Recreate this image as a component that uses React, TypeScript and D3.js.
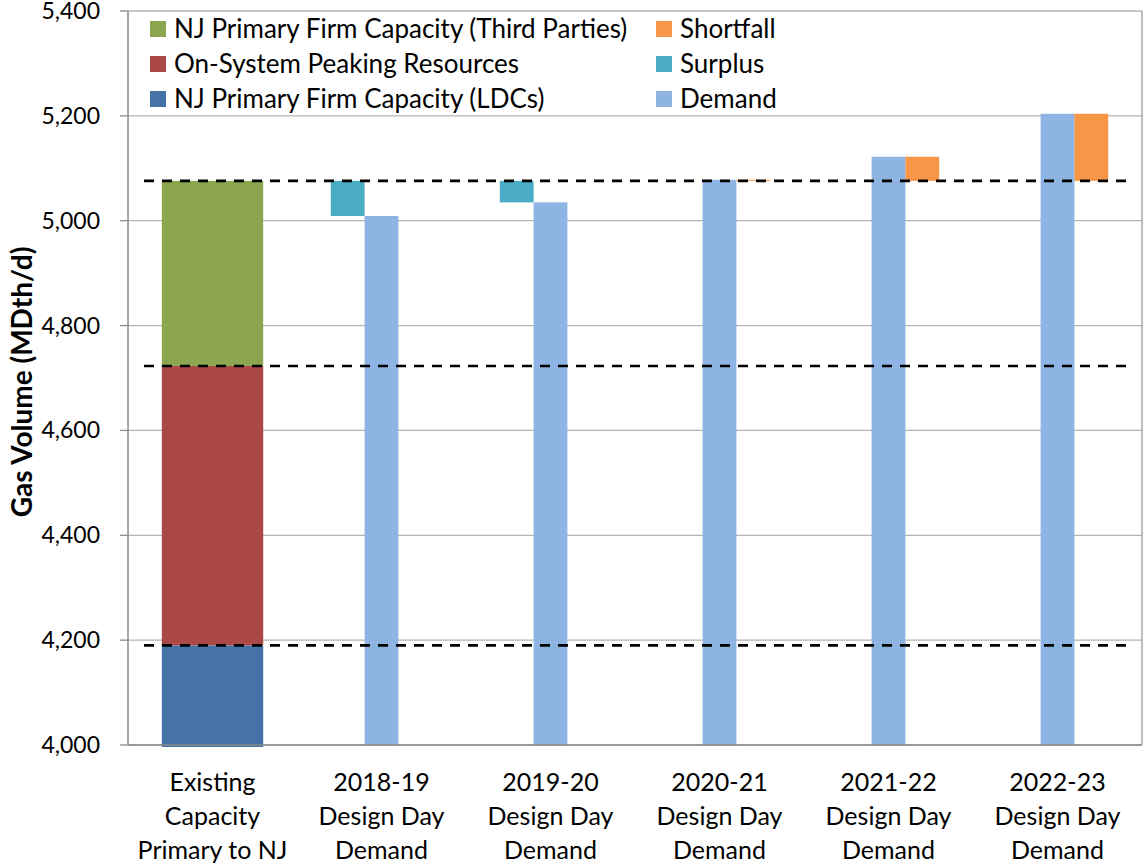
import React, { useEffect, useRef } from 'react';
import * as d3 from 'd3';

const categories = [
  ['Existing', 'Capacity', 'Primary to NJ'],
  ['2018-19', 'Design Day', 'Demand'],
  ['2019-20', 'Design Day', 'Demand'],
  ['2020-21', 'Design Day', 'Demand'],
  ['2021-22', 'Design Day', 'Demand'],
  ['2022-23', 'Design Day', 'Demand'],
];

// existing capacity stack (first category only)
const ldcCapacity = [4190, 0, 0, 0, 0, 0];
const peakingResources = [533, 0, 0, 0, 0, 0];
const thirdPartyCapacity = [353, 0, 0, 0, 0, 0];

// design day comparison
const demand = [0, 5009, 5035, 5078, 5122, 5204];
const surplus = [0, 67, 41, 0, 0, 0];
const shortfall = [0, 0, 0, 2, 46, 128];

const yTicks = [4000, 4200, 4400, 4600, 4800, 5000, 5200, 5400];

const legendItems = [
  { label: 'NJ Primary Firm Capacity (Third Parties)', color: '#8BA64F', col: 0, row: 0 },
  { label: 'On-System Peaking Resources', color: '#AA4846', col: 0, row: 1 },
  { label: 'NJ Primary Firm Capacity (LDCs)', color: '#4572A7', col: 0, row: 2 },
  { label: 'Shortfall', color: '#F79646', col: 1, row: 0 },
  { label: 'Surplus', color: '#4BACC6', col: 1, row: 1 },
  { label: 'Demand', color: '#8EB4E3', col: 1, row: 2 },
];

const FONT = 'Lato, "Open Sans", sans-serif';

function CapacityChart() {
  const ref = useRef<SVGSVGElement>(null);

  useEffect(() => {
    const width = 1143;
    const height = 867;
    const margin = { top: 11, right: 1, bottom: 122, left: 128 };
    const chartW = width - margin.left - margin.right;
    const chartH = height - margin.top - margin.bottom;

    const svg = d3.select(ref.current);
    svg.selectAll('*').remove();
    const g = svg.append('g').attr('transform', `translate(${margin.left},${margin.top})`);

    const x = d3.scaleBand<number>()
      .domain(d3.range(categories.length))
      .range([0, chartW])
      .padding(0);
    const bw = x.bandwidth();
    const sub = d3.scaleBand<string>()
      .domain(['surplus', 'demand', 'shortfall'])
      .range([bw * 0.2, bw * 0.8])
      .padding(0);

    const y = d3.scaleLinear().domain([4000, 5400]).range([chartH, 0]).clamp(true);

    // gridlines
    g.append('g')
      .selectAll('line')
      .data(yTicks)
      .enter()
      .append('line')
      .attr('x1', 0)
      .attr('x2', chartW)
      .attr('y1', d => y(d))
      .attr('y2', d => y(d))
      .attr('stroke', '#b4b4b4')
      .attr('stroke-width', 1.3);

    // right border
    g.append('line')
      .attr('x1', chartW).attr('x2', chartW)
      .attr('y1', 0).attr('y2', chartH)
      .attr('stroke', '#9a9a9a').attr('stroke-width', 1.3);

    // existing capacity stack
    const stackSeries = [
      { vals: ldcCapacity, color: '#4572A7' },
      { vals: peakingResources, color: '#AA4846' },
      { vals: thirdPartyCapacity, color: '#8BA64F' },
    ];
    const capacity = categories.map((_, i) => ldcCapacity[i] + peakingResources[i] + thirdPartyCapacity[i]);
    const totalCapacity = capacity[0];

    categories.forEach((_, i) => {
      let base = 0;
      stackSeries.forEach(s => {
        const v = s.vals[i];
        if (v > 0) {
          const top = base + v;
          g.append('rect')
            .attr('x', x(i)! + bw * 0.2)
            .attr('width', bw * 0.6)
            .attr('y', y(top))
            .attr('height', (base === 0 ? chartH + 2 : y(base)) - y(top))
            .attr('fill', s.color);
          base = top;
        }
      });
    });

    // surplus (floating from demand up to capacity)
    g.selectAll('.surplus')
      .data(categories.map((_, i) => i).filter(i => surplus[i] > 0))
      .enter()
      .append('rect')
      .attr('x', i => x(i)! + sub('surplus')!)
      .attr('width', sub.bandwidth())
      .attr('y', i => y(demand[i] + surplus[i]))
      .attr('height', i => y(demand[i]) - y(demand[i] + surplus[i]))
      .attr('fill', '#4BACC6');

    // demand
    g.selectAll('.demand')
      .data(categories.map((_, i) => i).filter(i => demand[i] > 0))
      .enter()
      .append('rect')
      .attr('x', i => x(i)! + sub('demand')!)
      .attr('width', sub.bandwidth())
      .attr('y', i => y(demand[i]))
      .attr('height', i => chartH - y(demand[i]))
      .attr('fill', '#8EB4E3');

    // shortfall (floating from capacity up to demand)
    g.selectAll('.shortfall')
      .data(categories.map((_, i) => i).filter(i => shortfall[i] > 0))
      .enter()
      .append('rect')
      .attr('x', i => x(i)! + sub('shortfall')!)
      .attr('width', sub.bandwidth())
      .attr('y', i => y(totalCapacity + shortfall[i]))
      .attr('height', i => y(totalCapacity) - y(totalCapacity + shortfall[i]))
      .attr('fill', '#F79646');

    // dashed reference lines
    const refLevels = [ldcCapacity[0], ldcCapacity[0] + peakingResources[0], totalCapacity];
    g.selectAll('.ref')
      .data(refLevels)
      .enter()
      .append('line')
      .attr('x1', 16)
      .attr('x2', chartW - 15)
      .attr('y1', d => y(d))
      .attr('y2', d => y(d))
      .attr('stroke', '#000')
      .attr('stroke-width', 2.6)
      .attr('stroke-dasharray', '10 8');

    // axes lines
    g.append('line')
      .attr('x1', 0).attr('x2', 0).attr('y1', 0).attr('y2', chartH)
      .attr('stroke', '#8a8a8a').attr('stroke-width', 1.5);
    g.append('line')
      .attr('x1', 0).attr('x2', chartW).attr('y1', chartH).attr('y2', chartH)
      .attr('stroke', '#8a8a8a').attr('stroke-width', 1.5);

    // y ticks
    const fmt = d3.format(',');
    const yt = g.append('g');
    yt.selectAll('line')
      .data(yTicks)
      .enter()
      .append('line')
      .attr('x1', -8).attr('x2', 0)
      .attr('y1', d => y(d)).attr('y2', d => y(d))
      .attr('stroke', '#8a8a8a').attr('stroke-width', 1.3);
    yt.selectAll('text')
      .data(yTicks)
      .enter()
      .append('text')
      .attr('x', -28)
      .attr('y', d => y(d))
      .attr('dy', '0.35em')
      .attr('text-anchor', 'end')
      .attr('font-family', FONT)
      .attr('font-size', 23)
      .attr('fill', '#000')
      .text(d => fmt(d));

    // x labels
    const xl = g.append('g');
    categories.forEach((lines, i) => {
      const t = xl.append('text')
        .attr('text-anchor', 'middle')
        .attr('font-family', FONT)
        .attr('font-size', 25)
        .attr('fill', '#000');
      lines.forEach((ln, j) => {
        t.append('tspan')
          .attr('x', x(i)! + bw / 2)
          .attr('y', chartH + 46 + j * 34)
          .text(ln);
      });
    });

    // y axis title
    svg.append('text')
      .attr('transform', `translate(32, ${margin.top + chartH / 2 + 4}) rotate(-90)`)
      .attr('text-anchor', 'middle')
      .attr('font-family', FONT)
      .attr('font-size', 28)
      .attr('font-weight', 'bold')
      .attr('fill', '#000')
      .text('Gas Volume (MDth/d)');

    // legend
    const colX = [150, 656];
    const rowY = [29, 64, 99];
    const lg = svg.append('g');
    legendItems.forEach(item => {
      lg.append('rect')
        .attr('x', colX[item.col])
        .attr('y', rowY[item.row] - 8)
        .attr('width', 16)
        .attr('height', 16)
        .attr('fill', item.color);
      lg.append('text')
        .attr('x', colX[item.col] + 24)
        .attr('y', rowY[item.row])
        .attr('dy', '0.35em')
        .attr('font-family', FONT)
        .attr('font-size', 26)
        .attr('fill', '#000')
        .text(item.label);
    });
  }, []);

  return (
    <svg
      ref={ref}
      width={1143}
      height={867}
      style={{ position: 'absolute', left: 0, top: 0, background: '#fff' }}
    />
  );
}

export default function App() {
  return <CapacityChart />;
}
